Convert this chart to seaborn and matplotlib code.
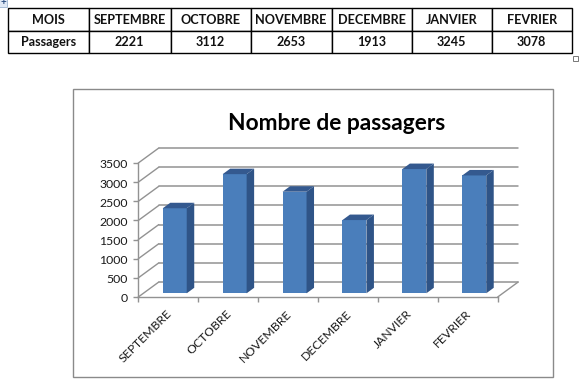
import matplotlib
matplotlib.use('Agg')
import matplotlib.pyplot as plt
import seaborn as sns
import pandas as pd
from matplotlib.patches import Polygon, Rectangle
from matplotlib.transforms import ScaledTranslation

mois = ['SEPTEMBRE', 'OCTOBRE', 'NOVEMBRE', 'DECEMBRE', 'JANVIER', 'FEVRIER']
passagers = [2221, 3112, 2653, 1913, 3245, 3078]
y_ticks = [0, 500, 1000, 1500, 2000, 2500, 3000, 3500]

W, H = 583, 385
sns.set_theme(style="white")
plt.rcParams['font.family'] = ['Lato', 'DejaVu Sans']

FRONT = '#4a7ebb'
SIDE = '#2f5487'
TOP = '#34598f'
GRID = '#929292'
TXT = '#1a1a1a'


def px_axes(fig, left, right, top, bottom):
    # axes placed with pixel edges, y counted from the top of the image
    return fig.add_axes([left / W, 1 - bottom / H, (right - left) / W, (bottom - top) / H])


fig = plt.figure(figsize=(W / 100, H / 100), dpi=100, facecolor='white')

# page layer: table, chart frame, word handles
page = fig.add_axes([0, 0, 1, 1], zorder=0)
page.set_xlim(0, W)
page.set_ylim(H, 0)
page.axis('off')

page.add_patch(Rectangle((72.5, 88.5), 480, 288, fc='white', ec='#8a8a8a', lw=1.0))

# table
edges = [8.3, 88.5, 170.5, 250.5, 331.7, 411.7, 491.7, 571.7]
widths = [(b - a) / (edges[-1] - edges[0]) for a, b in zip(edges, edges[1:])]
t_top, t_bot = 8.3, 53.3
tab = page.table(cellText=[['MOIS'] + mois, ['Passagers'] + [str(v) for v in passagers]],
                 colWidths=widths, cellLoc='center',
                 bbox=[edges[0] / W, 1 - t_bot / H, (edges[-1] - edges[0]) / W, (t_bot - t_top) / H])
tab.auto_set_font_size(False)
for (r, c), cell in tab.get_celld().items():
    cell.set_linewidth(1.0)
    cell.set_edgecolor('black')
    cell.get_text().set_fontsize(9.1)
    cell.get_text().set_fontweight('bold')
    cell.get_text().set_color('#111111')

# resize and move handles of the table
page.add_patch(Rectangle((572.5, 55.5), 5, 5, fc='white', ec='#777777', lw=0.7))
page.add_patch(Rectangle((-1, -1), 8, 8, fc='#dfe8f5', ec='#9db4d0', lw=0.6))
page.text(3, 3, '+', fontsize=7, ha='center', va='center', color='#2a4d80', fontweight='bold')

page.text(336.5, 123.5, 'Nombre de passagers', fontsize=16.4, fontweight='bold', color='black',
          ha='center', va='center')

# front plane of the 3d box
ax = px_axes(fig, 138.3, 497.7, 163, 297)
ax.patch.set_alpha(0)
ax.set_zorder(1)
ax.set_xlim(-0.5, 5.5)
ax.set_ylim(0, 3500)

px_x = 6 / (497.7 - 138.3)
px_y = 3500 / (297 - 163)
wall_dx, wall_dy = 20.5 * px_x, 15 * px_y

for v in y_ticks:
    ax.plot([-0.5, -0.5 + wall_dx], [v, v + wall_dy], color=GRID, lw=1, clip_on=False)
    ax.plot([-0.5 + wall_dx, 5.5 + wall_dx], [v + wall_dy, v + wall_dy], color=GRID, lw=1.1, clip_on=False)
ax.plot([5.5, 5.5 + wall_dx], [0, wall_dy], color=GRID, lw=1, clip_on=False)

for s in ['top', 'right']:
    ax.spines[s].set_visible(False)
for s in ['left', 'bottom']:
    ax.spines[s].set_color(GRID)
    ax.spines[s].set_linewidth(1)

ax.set_yticks(y_ticks)
ax.set_xticks([i - 0.5 for i in range(7)])
ax.set_xticklabels([])
ax.set_xticks(range(6), minor=True)
ax.set_xticklabels(mois, minor=True, rotation=45, ha='right', va='top', rotation_mode='anchor',
                   fontsize=8.8, color=TXT)
ax.tick_params(axis='x', which='major', length=3.5, width=1, color=GRID, bottom=True)
ax.tick_params(axis='x', which='minor', length=0, pad=8, bottom=True)
ax.tick_params(axis='y', length=3.5, width=1, color=GRID, labelsize=8.8, labelcolor=TXT, pad=4, left=True)
ax.set_xlabel('')
ax.set_ylabel('')

# nudge tick labels to sit where the reference has them
for label in ax.get_yticklabels():
    label.set_transform(label.get_transform() + ScaledTranslation(0, -1 / 100, fig.dpi_scale_trans))
for label in ax.get_xticklabels(minor=True):
    label.set_transform(label.get_transform() + ScaledTranslation(-2 / 100, 0, fig.dpi_scale_trans))

# bars sit a little inside the floor of the box
bar_ax = px_axes(fig, 138.3 + 6.5, 497.7 + 6.5, 163 - 3.7, 297 - 3.7)
bar_ax.set_zorder(2)
bar_ax.patch.set_alpha(0)
df = pd.DataFrame({'Mois': mois, 'Passagers': passagers})
sns.barplot(ax=bar_ax, data=df, x='Mois', y='Passagers', color=FRONT, saturation=1, width=0.4)
bar_ax.set_xlim(-0.5, 5.5)
bar_ax.set_ylim(0, 3500)
bar_ax.axis('off')

depth_x, depth_y = 7.5 * px_x, 5.5 * px_y
for bar in list(bar_ax.patches):
    x0, x1, v = bar.get_x(), bar.get_x() + bar.get_width(), bar.get_height()
    bar.set_edgecolor('none')
    bar_ax.add_patch(Polygon([(x1, 0), (x1 + depth_x, depth_y), (x1 + depth_x, v + depth_y), (x1, v)],
                             fc=SIDE, ec='none', clip_on=False))
    bar_ax.add_patch(Polygon([(x0, v), (x0 + depth_x, v + depth_y), (x1 + depth_x, v + depth_y), (x1, v)],
                             fc=TOP, ec='none', clip_on=False))

fig.savefig('out.png', dpi=100)
